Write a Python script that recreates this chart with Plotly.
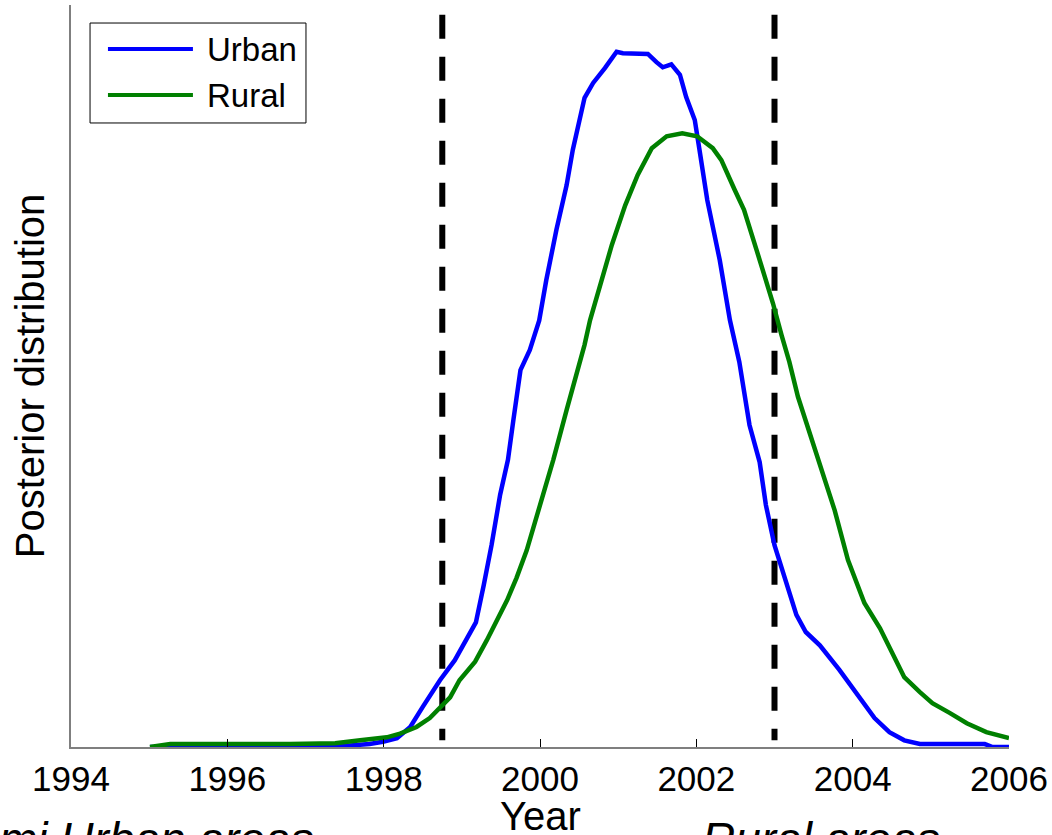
import plotly.graph_objects as go

# Posterior distribution of the change year, urban vs rural areas
urban_year = [1995.01, 1996.03, 1996.80, 1997.44, 1997.82, 1997.99, 1998.17, 1998.34, 1998.50,
              1998.72, 1998.91, 1999.06, 1999.18, 1999.28, 1999.38, 1999.49, 1999.59, 1999.66,
              1999.75, 1999.87, 1999.99, 2000.08, 2000.21, 2000.34, 2000.42, 2000.57, 2000.68,
              2000.83, 2000.98, 2001.06, 2001.38, 2001.49, 2001.57, 2001.68, 2001.79, 2001.87,
              2001.98, 2002.04, 2002.14, 2002.30, 2002.43, 2002.55, 2002.68, 2002.81, 2002.89,
              2003.00, 2003.16, 2003.28, 2003.40, 2003.58, 2003.83, 2004.06, 2004.28, 2004.47,
              2004.66, 2004.86, 2005.69, 2005.79, 2006.00]
urban_post = [0.000, 0.000, 0.000, 0.001, 0.004, 0.007, 0.012, 0.027, 0.054,
              0.090, 0.117, 0.144, 0.168, 0.218, 0.272, 0.340, 0.387, 0.441,
              0.508, 0.535, 0.575, 0.629, 0.697, 0.757, 0.805, 0.875, 0.895,
              0.915, 0.937, 0.935, 0.934, 0.923, 0.916, 0.920, 0.906, 0.876,
              0.845, 0.805, 0.737, 0.656, 0.575, 0.519, 0.434, 0.384, 0.326,
              0.272, 0.218, 0.178, 0.155, 0.137, 0.104, 0.070, 0.039, 0.020,
              0.009, 0.004, 0.004, 0.000, 0.000]

rural_year = [1995.01, 1995.27, 1996.80, 1997.38, 1997.70, 1998.04, 1998.21, 1998.42, 1998.59,
              1998.74, 1998.85, 1998.97, 1999.17, 1999.32, 1999.45, 1999.58, 1999.70, 1999.83,
              2000.00, 2000.17, 2000.34, 2000.48, 2000.57, 2000.64, 2000.77, 2000.92, 2001.09,
              2001.25, 2001.43, 2001.62, 2001.82, 2002.01, 2002.21, 2002.32, 2002.49, 2002.61,
              2002.77, 2002.87, 2002.98, 2003.09, 2003.19, 2003.30, 2003.42, 2003.58, 2003.77,
              2003.94, 2004.15, 2004.35, 2004.50, 2004.66, 2004.86, 2005.02, 2005.24, 2005.46,
              2005.71, 2005.88, 2006.00]
rural_post = [0.000, 0.004, 0.004, 0.005, 0.009, 0.013, 0.018, 0.027, 0.039,
              0.054, 0.067, 0.090, 0.115, 0.144, 0.171, 0.198, 0.228, 0.265,
              0.326, 0.387, 0.454, 0.508, 0.542, 0.575, 0.623, 0.677, 0.730,
              0.771, 0.807, 0.823, 0.827, 0.823, 0.807, 0.791, 0.751, 0.724,
              0.670, 0.636, 0.598, 0.555, 0.519, 0.472, 0.434, 0.380, 0.319,
              0.252, 0.194, 0.160, 0.128, 0.094, 0.074, 0.059, 0.046, 0.032,
              0.020, 0.016, 0.012]

# Credible-interval bounds shown as dashed verticals
interval_years = [1998.75, 2003.00]
interval_span = [0.987, 0.009]

series_names = ["Urban", "Rural"]
series_colors = ["#0000FF", "#008000"]

tick_years = [1994, 1996, 1998, 2000, 2002, 2004, 2006]
panel_captions = ["mi Urban areas", "Rural areas"]

FONT = "Liberation Sans, Arial, sans-serif"

fig = go.Figure()

for xv in interval_years:
    fig.add_trace(go.Scatter(
        x=[xv, xv], y=interval_span, mode="lines",
        line=dict(color="black", width=6, dash="24px,18px"),
        showlegend=False, hoverinfo="skip"))

for name, color, xs, ys in zip(series_names, series_colors,
                               [urban_year, rural_year], [urban_post, rural_post]):
    fig.add_trace(go.Scatter(
        x=xs, y=ys, mode="lines", name=name,
        line=dict(color=color, width=4.5), showlegend=False))

# Boxed legend in the upper-left corner
fig.add_shape(type="rect", xref="paper", yref="paper",
              x0=0.0203, x1=0.2505, y0=0.841, y1=0.9757,
              line=dict(color="black", width=1), fillcolor="white", layer="above")
legend_rows = [0.9407, 0.8787]
for name, color, ly in zip(series_names, series_colors, legend_rows):
    fig.add_shape(type="line", xref="paper", yref="paper",
                  x0=0.0394, x1=0.130, y0=ly, y1=ly,
                  line=dict(color=color, width=4), layer="above")
    fig.add_annotation(xref="paper", yref="paper", x=0.1429, y=ly,
                       xanchor="left", yanchor="middle", text=name, showarrow=False,
                       font=dict(family=FONT, size=33, color="black"))

# x-axis title
fig.add_annotation(xref="paper", yref="paper", x=0.5, y=-0.0606,
                   xanchor="center", yanchor="top", text="Year", showarrow=False,
                   font=dict(family=FONT, size=40, color="black"))

# Captions of the panels below
for cap, cx in zip(panel_captions, [-0.0789, 0.6706]):
    fig.add_annotation(xref="paper", yref="paper", x=cx, y=-0.0863,
                       xanchor="left", yanchor="top", text="<i>%s</i>" % cap,
                       showarrow=False,
                       font=dict(family=FONT, size=46, color="black"))

fig.update_layout(
    width=1052, height=835,
    margin=dict(l=71, r=43, t=5, b=88),
    paper_bgcolor="white", plot_bgcolor="white",
    showlegend=False,
    xaxis=dict(
        range=[1994, 2006], tickvals=tick_years,
        ticktext=[str(t) for t in tick_years],
        ticks="inside", ticklen=8, tickcolor="black", tickwidth=1,
        showline=True, linecolor="#7f7f7f", linewidth=1.5,
        showgrid=False, zeroline=False,
        tickfont=dict(family=FONT, size=35, color="black"),
        automargin=False),
    yaxis=dict(
        range=[0, 1], showticklabels=False, ticks="",
        showline=True, linecolor="#7f7f7f", linewidth=1.5,
        showgrid=False, zeroline=False,
        title=dict(text="Posterior distribution", standoff=12,
                   font=dict(family=FONT, size=40, color="black")),
        automargin=False),
)

fig.write_html("out.html")
